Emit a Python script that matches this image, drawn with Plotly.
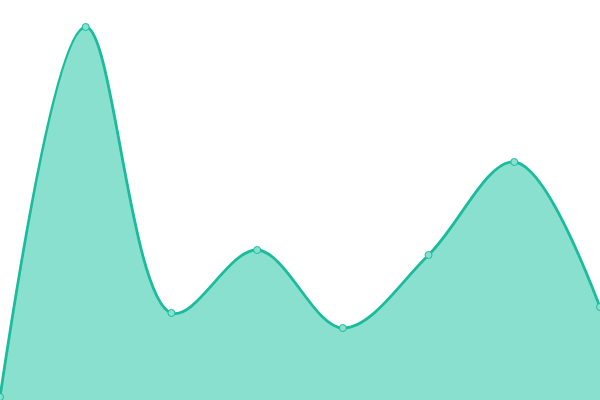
import plotly.graph_objects as go

# data (pixel height above bottom edge)
x_vals = [0, 1, 2, 3, 4, 5, 6, 7]
y_vals = [3, 373, 87, 150, 72, 145, 238, 93]

line_color = "#1abc9c"
fill_color = "rgb(138,224,206)"

fig = go.Figure()
fig.add_trace(go.Scatter(
    x=x_vals, y=y_vals,
    mode="lines+markers",
    line=dict(color=line_color, width=2.8, shape="spline", smoothing=1),
    marker=dict(size=7, color=fill_color, line=dict(color=line_color, width=1)),
    fill="tozeroy", fillcolor=fill_color,
    cliponaxis=False,
    hoverinfo="skip",
))

fig.update_layout(
    width=600, height=400,
    margin=dict(l=0, r=0, t=0, b=0),
    paper_bgcolor="white", plot_bgcolor="white",
    showlegend=False,
)
fig.update_xaxes(visible=False, range=[0, 7])
fig.update_yaxes(visible=False, range=[0, 400])

# page has a default body margin, drop it so the chart fills the window
fig.write_html("out.html", config={"displayModeBar": False},
               post_script="document.body.style.margin='0';")
